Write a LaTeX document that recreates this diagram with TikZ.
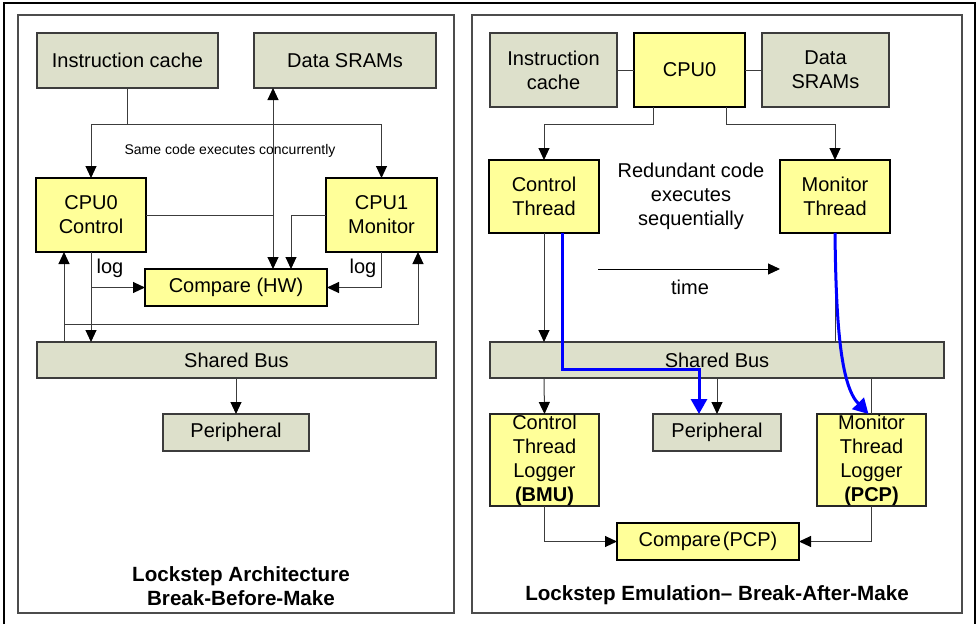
\documentclass[tikz,border=0pt]{standalone}
\usepackage{fontspec}
\setmainfont{Liberation Sans}
\usetikzlibrary{arrows.meta,calc}
\definecolor{boxgray}{RGB}{221,224,203}
\definecolor{boxyel}{RGB}{255,255,153}
\definecolor{lnclr}{RGB}{60,60,60}
\begin{document}
\begin{tikzpicture}[x=1pt,y=-1pt,
  base/.style={inner sep=0pt,outer sep=0pt,align=center,font=\fontsize{20}{24}\selectfont},
  graybox/.style={base,draw=lnclr,line width=1.1pt,fill=boxgray},
  yelbox/.style={base,draw=black,line width=2.8pt,fill=boxyel},
  yelthin/.style={base,draw=black!85,line width=1.3pt,fill=boxyel},
  conn/.style={draw=lnclr,line width=1pt},
  arr/.style={conn,-{Triangle[length=12pt,width=11pt,color=black]}},
  darr/.style={conn,{Triangle[length=12pt,width=11pt,color=black]}-{Triangle[length=12pt,width=11pt,color=black]}},
  bluearr/.style={draw=blue,line width=3pt,-{Triangle[length=15pt,width=16pt]}},
  panel/.style={draw=black!70,line width=1.5pt},
  lbl/.style={inner sep=0pt,font=\fontsize{20}{24}\selectfont,align=center},
  ttl/.style={inner sep=0pt,font=\fontsize{20.6}{24}\selectfont\bfseries,align=center}]
\useasboundingbox (0,0) rectangle (980,624);
% outer frame
\draw[black,line width=1.5pt] (4,624) -- (4,3) -- (975,3) -- (975,624);
% panels
\draw[panel] (18,15) rectangle (454,613);
\draw[panel] (472,15) rectangle (962,613);

% ---------------- left panel ----------------
\node[graybox,minimum width=181pt,minimum height=55pt] (licache) at (127.5,60.5) {Instruction cache};
\node[graybox,minimum width=182pt,minimum height=55pt] (ldata) at (345,60.5) {Data SRAMs};
\node[yelbox,minimum width=110pt,minimum height=74pt] (lcpu0) at (91,215) {CPU0\\Control};
\node[yelbox,minimum width=111pt,minimum height=74pt] (lcpu1) at (381.5,215) {CPU1\\Monitor};
\node[yelbox,minimum width=182pt,minimum height=37pt] (lcmp) at (236,287.5) {Compare (HW)};
\node[graybox,minimum width=399pt,minimum height=36pt] (lbus) at (236.5,360) {Shared Bus};
\node[graybox,minimum width=146pt,minimum height=37pt] (lper) at (236,432.5) {Peripheral};
\node[inner sep=0pt,font=\fontsize{14}{16}\selectfont] (lsame) at (230,151) {Same code executes concurrently};
\node[lbl] (llog0) at (110,268) {log};
\node[lbl] (llog1) at (363,268) {log};
\node[ttl] (lttl) at (241,586) {Lockstep Architecture\\Break-Before-Make};

\coordinate (lsplit) at (127.5,124);
\coordinate (lv) at (273,0);
\coordinate (lv2) at (291,0);
\coordinate (lu0) at (64,324);
\coordinate (lu1) at (418,324);
\draw[conn] (licache.south) -- (lsplit);
\draw[arr] (lsplit) -| (lcpu0.north);
\draw[arr] (lsplit) -| (lcpu1.north);
\draw[darr] (ldata.south -| lv) -- (lcmp.north -| lv);
\draw[conn] (lcpu0.east) -- (lcpu0.east -| lv);
\draw[arr] (lcpu1.west) -| (lcmp.north -| lv2);
\draw[arr] (lcpu0.south) -- (lbus.north -| lcpu0.south);
\draw[arr] (lcpu0.south |- lcmp.west) -- (lcmp.west);
\draw[arr] (lcpu1.south) |- (lcmp.east);
\draw[arr] (lbus.north -| lu0) -- (lcpu0.south -| lu0);
\draw[arr] (lu0) -| (lcpu1.south -| lu1);
\draw[arr] (lbus.south -| lper.north) -- (lper.north);

% ---------------- right panel ----------------
\node[graybox,minimum width=127pt,minimum height=74pt] (ricache) at (553.5,70) {Instruction\\cache};
\node[yelbox,minimum width=111pt,minimum height=74pt] (rcpu0) at (689.5,70) {CPU0};
\node[graybox,minimum width=127pt,minimum height=74pt] (rdata) at (825.5,70) {Data\\SRAMs};
\node[yelbox,minimum width=110pt,minimum height=73pt] (rctl) at (544,196.5) {Control\\Thread};
\node[yelbox,minimum width=110pt,minimum height=73pt] (rmon) at (835,196.5) {Monitor\\Thread};
\node[lbl] (rred) at (691,196.5) {Redundant code\\executes\\sequentially};
\node[lbl] (rtime) at (690,287) {time};
\node[graybox,minimum width=454pt,minimum height=36pt] (rbus) at (717,360) {Shared Bus};
\node[graybox,minimum width=128pt,minimum height=37pt] (rper) at (717,432.5) {Peripheral};
\node[yelthin,minimum width=109pt,minimum height=92pt] (rclog) at (544.5,460) {Control\\Thread\\Logger\\\textbf{(BMU)}};
\node[yelthin,minimum width=109pt,minimum height=92pt] (rmlog) at (871.5,460) {Monitor\\Thread\\Logger\\\textbf{(PCP)}};
\node[yelbox,minimum width=182pt,minimum height=37pt] (rcmp) at (708,541.5) {Compare\hspace{2pt}(PCP)};
\node[ttl] (rttl) at (717,595) {Lockstep Emulation– Break-After-Make};

\coordinate (rs) at (0,124);
\coordinate (t0) at (598,269);
\coordinate (t1) at (780,269);
\draw[conn] (ricache.east) -- (rcpu0.west);
\draw[conn] (rcpu0.east) -- (rdata.west);
\draw[arr] ([xshift=19pt]rcpu0.south west) -- ([xshift=19pt]rcpu0.south west |- rs) -| (rctl.north);
\draw[arr] ([xshift=-19pt]rcpu0.south east) -- ([xshift=-19pt]rcpu0.south east |- rs) -| (rmon.north);
\draw[arr,draw=black] (t0) -- (t1);
\draw[arr] (rctl.south) -- (rctl.south |- rbus.north);
\draw[arr] (rctl.south |- rbus.south) -- (rclog.north);
\draw[arr] (rbus.south -| rper.north) -- (rper.north);
\draw[conn] (rmon.south) -- (rmon.south |- rbus.north);
\draw[conn] (rbus.south -| rmlog.north) -- (rmlog.north);
\draw[arr] (rclog.south) |- (rcmp.west);
\draw[arr] (rmlog.south) |- (rcmp.east);
\draw[bluearr] ([xshift=18pt]rctl.south) -- ++(0,136) -| ([xshift=-18pt]rper.north);
\draw[bluearr] (rmon.south) .. controls (836,320) and (840,385) .. ([xshift=-3pt]rmlog.north);
\end{tikzpicture}
\end{document}
